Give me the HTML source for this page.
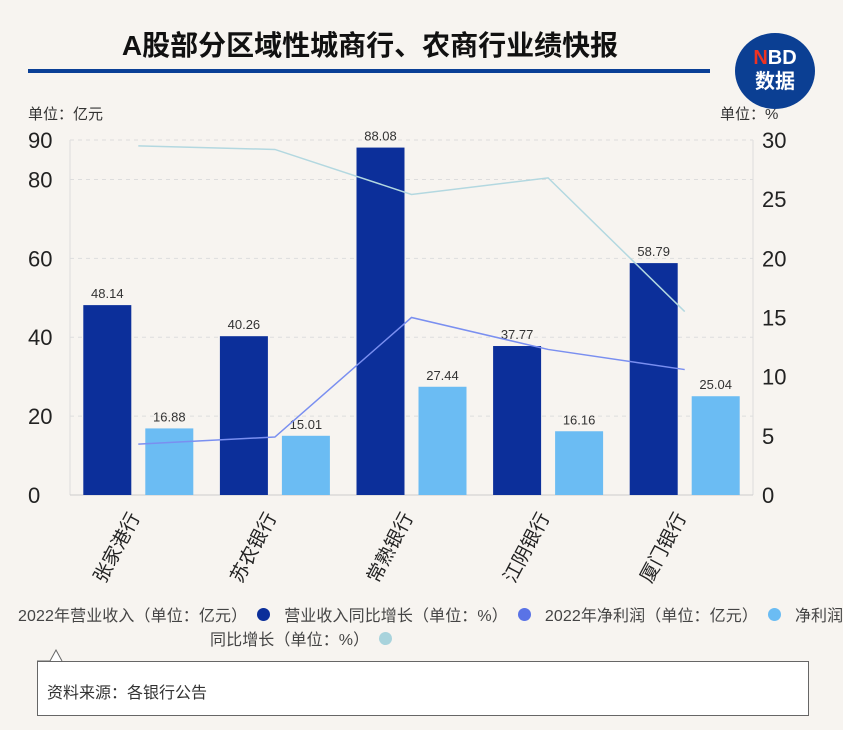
<!DOCTYPE html>
<html><head><meta charset="utf-8"><style>
body{margin:0;width:843px;height:730px;background:#f7f4f0;font-family:"Liberation Sans","Noto Sans CJK SC",sans-serif;overflow:hidden;position:relative}
</style></head><body>
<div style="position:absolute;left:0;top:24px;width:740px;text-align:center;font-size:28px;font-weight:bold;color:#111">A股部分区域性城商行、农商行业绩快报</div>
<div style="position:absolute;left:28px;top:69px;width:682px;height:4px;background:#0a3f96"></div>
<div style="position:absolute;left:735px;top:33px;width:80px;height:76px;border-radius:50%;background:#0b3f93;color:#fff;text-align:center;font-weight:bold;font-size:20px;line-height:24px;padding-top:13px;box-sizing:border-box"><span style="color:#e32">N</span>BD<br>数据</div>
<svg id="c" width="843" height="730" style="position:absolute;left:0;top:0" font-family="Liberation Sans, Noto Sans CJK SC, sans-serif"></svg>
<div style="position:absolute;left:0;top:605px;width:843px;font-size:16px;color:#444;line-height:24px">
<div style="position:absolute;left:18px;top:0;white-space:nowrap;letter-spacing:0.1px">2022年营业收入（单位：亿元）<span style="display:inline-block;width:13px;height:13px;border-radius:50%;background:#0c2f9a;margin:0 14px 0 10px"></span>营业收入同比增长（单位：%）<span style="display:inline-block;width:13px;height:13px;border-radius:50%;background:#5a73e6;margin:0 14px 0 10px"></span>2022年净利润（单位：亿元）<span style="display:inline-block;width:13px;height:13px;border-radius:50%;background:#6bbcf3;margin:0 14px 0 10px"></span>净利润</div>
<div style="position:absolute;left:210px;top:24px;white-space:nowrap;letter-spacing:0.1px">同比增长（单位：%）<span style="display:inline-block;width:13px;height:13px;border-radius:50%;background:#a8d3dc;margin-left:10px"></span></div>
</div>
<div style="position:absolute;left:37px;top:661px;width:772px;height:55px;background:#fff;border:1px solid #666;box-sizing:border-box;font-size:16px;color:#333;padding:17px 0 0 9px">资料来源：各银行公告</div>
<script>
const categories=["张家港行","苏农银行","常熟银行","江阴银行","厦门银行"];
const revenue=[48.14,40.26,88.08,37.77,58.79];
const profit=[16.88,15.01,27.44,16.16,25.04];
const revGrowth=[4.3,4.9,15.0,12.3,10.6];
const profitGrowth=[29.5,29.2,25.4,26.8,15.5];
const leftTicks=[0,20,40,60,80,90];
const rightTicks=[0,5,10,15,20,25,30];
const svg=document.getElementById('c');const NS='http://www.w3.org/2000/svg';
const X0=70,X1=753,Y0=495,Y1=140;
const yL=v=>Y0-(v/90)*(Y0-Y1);const yR=v=>Y0-(v/30)*(Y0-Y1);
const bw=(X1-X0)/categories.length;const xc=i=>X0+bw*(i+0.5);
function mk(t,a,p){const e=document.createElementNS(NS,t);for(const k in a)e.setAttribute(k,a[k]);(p||svg).appendChild(e);return e;}
let e;
e=mk('text',{x:28,y:119,'font-size':15,fill:'#333'});e.textContent='单位：亿元';


e=mk('text',{x:720,y:119,'font-size':15,fill:'#333'});e.textContent='单位：%';


leftTicks.forEach(v=>{const y=yL(v);
 if(v>0){e=mk('line',{x1:X0,x2:X1,y1:y,y2:y,stroke:'#ddd','stroke-dasharray':'4,4'});
 
 }
 e=mk('text',{x:28,y:y+8,'font-size':22,fill:'#222'});e.textContent=v;
 
 });
rightTicks.forEach(v=>{e=mk('text',{x:762,y:yR(v)+8,'font-size':22,fill:'#222'});e.textContent=v;
 
 });
e=mk('line',{x1:X0,x2:X0,y1:Y1,y2:Y0,stroke:'#ddd'});
e=mk('line',{x1:X1,x2:X1,y1:Y1,y2:Y0,stroke:'#ddd'});
e=mk('line',{x1:X0,x2:X1,y1:Y0,y2:Y0,stroke:'#ccc'});
categories.forEach((c,i)=>{
 const x=xc(i);
 e=mk('rect',{x:x-31-24,y:yL(revenue[i]),width:48,height:Y0-yL(revenue[i]),fill:'#0c2f9a'});
 
 
 e=mk('text',{x:x-31,y:yL(revenue[i])-7,'font-size':13,fill:'#333','text-anchor':'middle'});e.textContent=revenue[i].toFixed(2);
 
 
 e=mk('rect',{x:x+31-24,y:yL(profit[i]),width:48,height:Y0-yL(profit[i]),fill:'#6bbcf3'});
 
 
 e=mk('text',{x:x+31,y:yL(profit[i])-7,'font-size':13,fill:'#333','text-anchor':'middle'});e.textContent=profit[i].toFixed(2);
 
 
 e=mk('text',{x:x+2,y:Y0+22,'font-size':19,fill:'#222','text-anchor':'end',transform:`rotate(-62 ${x+2} ${Y0+22})`});e.textContent=c;
 
 
});
e=mk('polyline',{points:revGrowth.map((v,i)=>xc(i)+','+yR(v)).join(' '),fill:'none',stroke:'#7a8ff0','stroke-width':1.5});


e=mk('polyline',{points:profitGrowth.map((v,i)=>xc(i)+','+yR(v)).join(' '),fill:'none',stroke:'#b3d8e0','stroke-width':1.5});


e=mk('path',{d:'M37 661 L50 661 L56 650 L62 661',fill:'#fff',stroke:'#666'});


</script>
</body></html>
